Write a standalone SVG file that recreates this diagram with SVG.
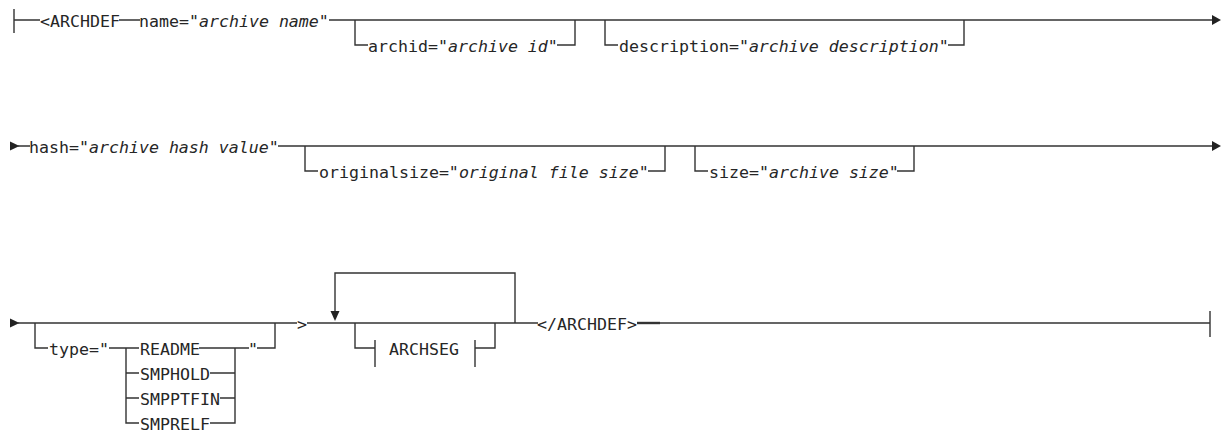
<svg xmlns="http://www.w3.org/2000/svg" width="1222" height="434" viewBox="0 0 1222 434">
<style>
.ln{fill:none;stroke:#333;stroke-width:1.4}
.ar{fill:#222;stroke:none}
text{font-family:"DejaVu Sans Mono","Liberation Mono",monospace;font-size:16.6px;fill:#262626}
.i{font-style:italic}
</style>
<rect width="1222" height="434" fill="#fff"/>
<g id="connectors">
<!-- row 1 -->
<path class="ln" d="M14 9V33M14 20H40M119 20H140M329 20H1213"/>
<path class="ln" d="M355 20V45H368M557 45H575V20"/>
<path class="ln" d="M605 20V45H618M948 45H964V20"/>
<polygon class="ar" points="1212,15 1221,20 1212,25"/>
<!-- row 2 -->
<polygon class="ar" points="10,141.5 19.5,146 10,150.5"/>
<path class="ln" d="M18 146H30M278 146H1213"/>
<path class="ln" d="M305 146V171H318M648 171H665V146"/>
<path class="ln" d="M695 146V171H708M897 171H914V146"/>
<polygon class="ar" points="1212,141 1221,146 1212,151"/>
<!-- row 3 -->
<polygon class="ar" points="10,318.5 19.5,323 10,327.5"/>
<path class="ln" d="M18 323H297M307 323H538"/>
<path class="ln" d="M35 323V348H48M109 348H139M126 348V423H139"/>
<path class="ln" d="M199 348H235M210 373H235M220 398H235M210 423H235V348"/>
<path class="ln" d="M126 373H139M126 398H139"/>
<path class="ln" d="M235 348H249M257 348H275V323"/>
<path class="ln" d="M515 323V273H335V312"/>
<polygon class="ar" points="330.5,311 339.5,311 335,321"/>
<path class="ln" d="M355 323V348H375M375 340V367M475 340V367M475 348H495V323"/>
<path class="ln" d="M637 323H660" style="stroke-width:2.4"/>
<path class="ln" d="M660 323H1210M1210 311V337"/>
</g>
<g id="n-archdef"><text x="40" y="26.5">&lt;ARCHDEF</text></g>
<g id="n-name"><text x="139" y="26.5">name="<tspan class="i">archive name</tspan>"</text></g>
<g id="n-archid"><text x="368" y="51.5">archid="<tspan class="i">archive id</tspan>"</text></g>
<g id="n-description"><text x="619" y="51.5">description="<tspan class="i">archive description</tspan>"</text></g>
<g id="n-hash"><text x="29" y="152.5">hash="<tspan class="i">archive hash value</tspan>"</text></g>
<g id="n-originalsize"><text x="319" y="177.5">originalsize="<tspan class="i">original file size</tspan>"</text></g>
<g id="n-size"><text x="709" y="177.5">size="<tspan class="i">archive size</tspan>"</text></g>
<g id="n-type"><text x="49" y="354.5">type="</text></g>
<g id="n-readme"><text x="140" y="354.5">README</text></g>
<g id="n-smphold"><text x="140" y="379.5">SMPHOLD</text></g>
<g id="n-smpptfin"><text x="140" y="404.5">SMPPTFIN</text></g>
<g id="n-smprelf"><text x="140" y="429.5">SMPRELF</text></g>
<g id="n-quote"><text x="248" y="354.5">"</text></g>
<g id="n-gt"><text x="297" y="329.5">&gt;</text></g>
<g id="n-archseg"><text x="389" y="354.5">ARCHSEG</text></g>
<g id="n-endarchdef"><text x="537" y="329.5">&lt;/ARCHDEF&gt;</text></g>
</svg>
